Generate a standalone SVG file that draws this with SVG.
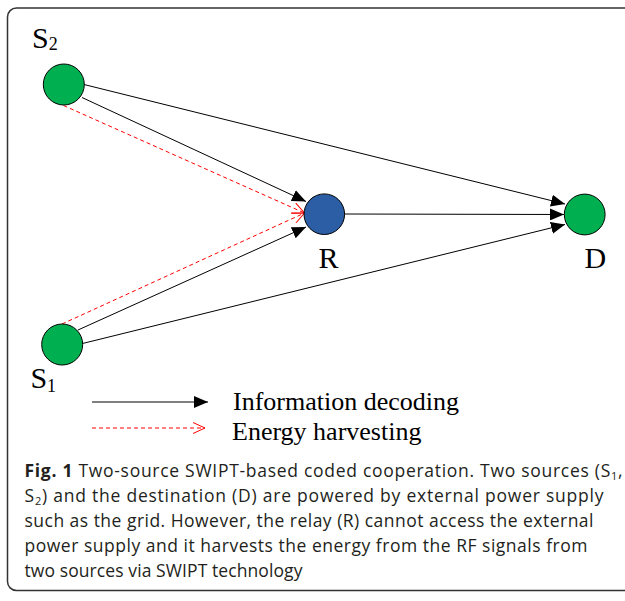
<svg xmlns="http://www.w3.org/2000/svg" width="625" height="601" viewBox="0 0 625 601">
<style>
.node{stroke:#000;stroke-width:1}
.lbl{font-family:"Liberation Serif","Times New Roman",serif;font-size:30px;fill:#000}
.sub{font-size:18px}
.leg{font-family:"Liberation Serif","Times New Roman",serif;font-size:26px;fill:#000}
.info{stroke:#000;stroke-width:1;fill:none}
.eh{stroke:#ff0000;stroke-width:1;stroke-dasharray:4,3;fill:none}
.cap{font-family:"Open Sans","Noto Sans",sans-serif;font-size:17.5px;fill:#231f20}
</style>
<defs>
<marker id="ah" markerUnits="userSpaceOnUse" markerWidth="14" markerHeight="12" refX="14" refY="6" orient="auto">
<path d="M0,0 L14,6 L0,12 z" fill="#000"/>
</marker>
<marker id="oh" markerUnits="userSpaceOnUse" markerWidth="14" markerHeight="12" refX="13" refY="6" orient="auto">
<path d="M1,0.5 L13,6 L1,11.5" fill="none" stroke="#ff0000" stroke-width="1"/>
</marker>
</defs>
<rect width="625" height="601" fill="#fff"/>
<rect x="7.5" y="8" width="625" height="582.5" rx="9" ry="9" fill="none" stroke="#333" stroke-width="1.5"/>
<g id="connectors">
<path class="info" d="M84,84.5 L565,204" marker-end="url(#ah)"/>
<path class="info" d="M82,97.5 L306,201.5" marker-end="url(#ah)"/>
<path class="eh" d="M63.5,105.5 L304.5,213" marker-end="url(#oh)"/>
<path class="info" d="M344.5,214 L564,214.5" marker-end="url(#ah)"/>
<path class="info" d="M78,330 L306,227" marker-end="url(#ah)"/>
<path class="info" d="M82.5,343.5 L565,224.5" marker-end="url(#ah)"/>
<path class="eh" d="M62,324 L304.5,213" marker-end="url(#oh)"/>
</g>
<g id="S2">
<circle class="node" cx="63.8" cy="84.5" r="20.5" fill="#00b050"/>
<text class="lbl" x="32" y="48">S<tspan class="sub" dy="2">2</tspan></text>
</g>
<g id="R">
<circle class="node" cx="324.3" cy="214.2" r="20.3" fill="#2b5ea4"/>
<text class="lbl" x="318.5" y="268">R</text>
</g>
<g id="D">
<circle class="node" cx="584.7" cy="214.5" r="20.4" fill="#00b050"/>
<text class="lbl" x="584.5" y="268">D</text>
</g>
<g id="S1">
<circle class="node" cx="62.2" cy="344.5" r="20.5" fill="#00b050"/>
<text class="lbl" x="30.4" y="388">S<tspan class="sub" dy="3.5">1</tspan></text>
</g>
<g id="legend">
<path class="info" d="M92,402 L208,402" marker-end="url(#ah)"/>
<text class="leg" x="233" y="410">Information decoding</text>
<path class="eh" d="M92,428 L205,428" marker-end="url(#oh)"/>
<text class="leg" x="232" y="440">Energy harvesting</text>
</g>
<g id="caption">
<text class="cap" x="24.5" y="476.5" textLength="598" lengthAdjust="spacing"><tspan font-weight="bold">Fig. 1</tspan> Two-source SWIPT-based coded cooperation. Two sources (S<tspan font-size="11" dy="3">1</tspan><tspan dy="-3">,</tspan></text>
<text class="cap" x="24.5" y="501.5" textLength="579" lengthAdjust="spacing">S<tspan font-size="11" dy="3">2</tspan><tspan dy="-3">) and the destination (D) are powered by external power supply</tspan></text>
<text class="cap" x="24.5" y="527" textLength="569" lengthAdjust="spacing">such as the grid. However, the relay (R) cannot access the external</text>
<text class="cap" x="24.5" y="552" textLength="563" lengthAdjust="spacing">power supply and it harvests the energy from the RF signals from</text>
<text class="cap" x="24.5" y="577" textLength="278" lengthAdjust="spacing">two sources via SWIPT technology</text>
</g>
</svg>
